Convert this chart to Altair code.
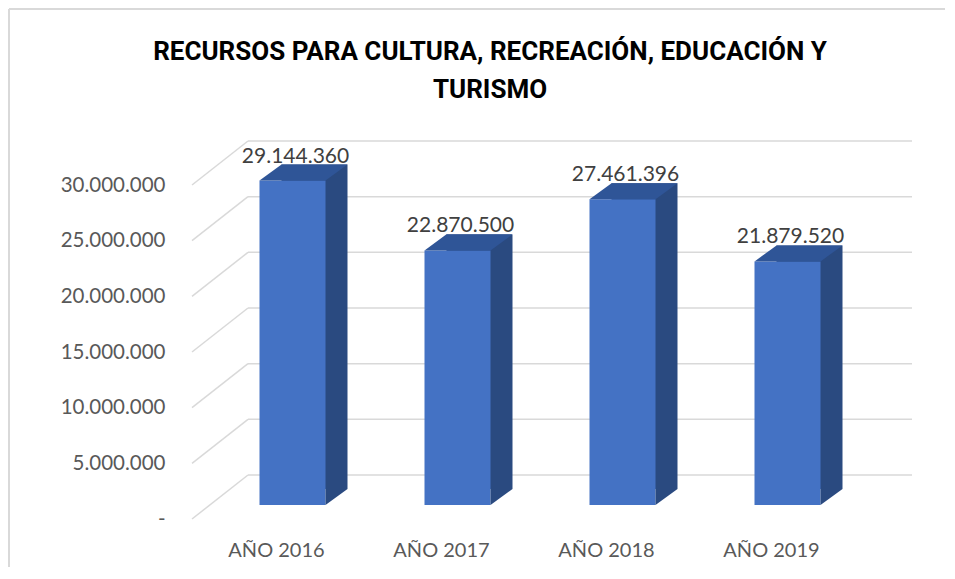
import altair as alt
import pandas as pd

# ---- data ----
years = ["AÑO 2016", "AÑO 2017", "AÑO 2018", "AÑO 2019"]
values = [29144360, 22870500, 27461396, 21879520]
ticks = [0, 5000000, 10000000, 15000000, 20000000, 25000000, 30000000]
title_lines = ["RECURSOS PARA CULTURA, RECREACIÓN, EDUCACIÓN Y", "TURISMO"]

df = pd.DataFrame({"year": years, "value": values})
grid = pd.DataFrame({"v": ticks})
one = alt.Data(values=[{"k": 0}])

FRONT = "#4472C4"
TOP = "#2F5597"
SIDE = "#2A4A80"
GRID = "#D9D9D9"
FONT = "Lato"
TITLE_FONT = "Roboto"

yscale = alt.Scale(domain=[0, 30000000], nice=False, zero=True)
xscale = alt.Scale(domain=years, paddingInner=0.6, paddingOuter=0.3)

fmt = "replace(format(datum.value, ','), regexp(',', 'g'), '.')"

yaxis = alt.Axis(values=ticks, labelExpr="datum.value == 0 ? '-' : " + fmt,
                 domain=False, ticks=False, grid=False, labelPadding=45,
                 labelOffset=14, labelFontSize=20.5, labelFont=FONT,
                 labelColor="#595959", title=None)
xaxis = alt.Axis(labelAngle=0, domain=False, ticks=False, grid=False,
                 labelPadding=35, labelOffset=-16, labelFontSize=20,
                 labelFont=FONT, labelColor="#595959", title=None)

X = alt.X("year:N", scale=xscale, sort=years, axis=xaxis)


def Yv(field):
    return alt.Y(field, scale=yscale, axis=yaxis)


back = alt.Chart(grid).mark_rule(color=GRID, strokeWidth=1.5, yOffset=-30).encode(
    x=alt.value(38), x2=alt.value(702), y=Yv("v:Q"))

diag = alt.Chart(grid).mark_rule(color=GRID, strokeWidth=1.5, yOffset=14, y2Offset=-30).encode(
    x=alt.value(-18), x2=alt.value(38), y=Yv("v:Q"), y2=alt.Y2("v:Q"))

side = alt.Chart(df).mark_bar(color=SIDE, xOffset=22, x2Offset=22,
                              yOffset=-16, y2Offset=-16).encode(
    x=X, y=Yv("value:Q"))

front = alt.Chart(df).mark_bar(color=FRONT).encode(x=X, y=Yv("value:Q"))

topface = alt.Chart(df).mark_point(
    shape="M-1.5,0L-0.5,-0.7273L2.5,-0.7273L1.5,0Z", size=1936,
    filled=True, opacity=1, color=TOP, strokeWidth=0).encode(
    x=X, y=Yv("value:Q"))

bottomtri = alt.Chart(df).mark_point(
    shape="M1.5,-0.7273L2.5,-0.7273L1.5,0Z", size=1936,
    filled=True, opacity=1, color=SIDE, strokeWidth=0).encode(
    x=X, y=alt.datum(0, scale=yscale, axis=yaxis))

labels = alt.Chart(df).transform_calculate(lab=fmt).mark_text(
    dy=-18, dx=3, baseline="alphabetic", fontSize=21, font=FONT,
    color="#404040").encode(
    x=X, y=Yv("value:Q"), text="lab:N")

border_top = alt.Chart(one).mark_rule(color=GRID, strokeWidth=2).encode(
    x=alt.value(-201), x2=alt.value(735), y=alt.value(-162))
border_left = alt.Chart(one).mark_rule(color=GRID, strokeWidth=2).encode(
    x=alt.value(-201), y=alt.value(-162), y2=alt.value(396))

chart = alt.layer(back, diag, side, front, topface, bottomtri, labels,
                  border_top, border_left).properties(
    width=660, height=334, padding=0, background="white",
    title=alt.TitleParams(text=title_lines, font=TITLE_FONT, fontSize=26,
                          fontWeight="bold", color="black", anchor="middle",
                          frame="group", dx=-50, offset=-95, lineHeight=38)
).configure_view(stroke=None)

chart.save("out.html", embed_options={"renderer": "svg", "actions": False})
